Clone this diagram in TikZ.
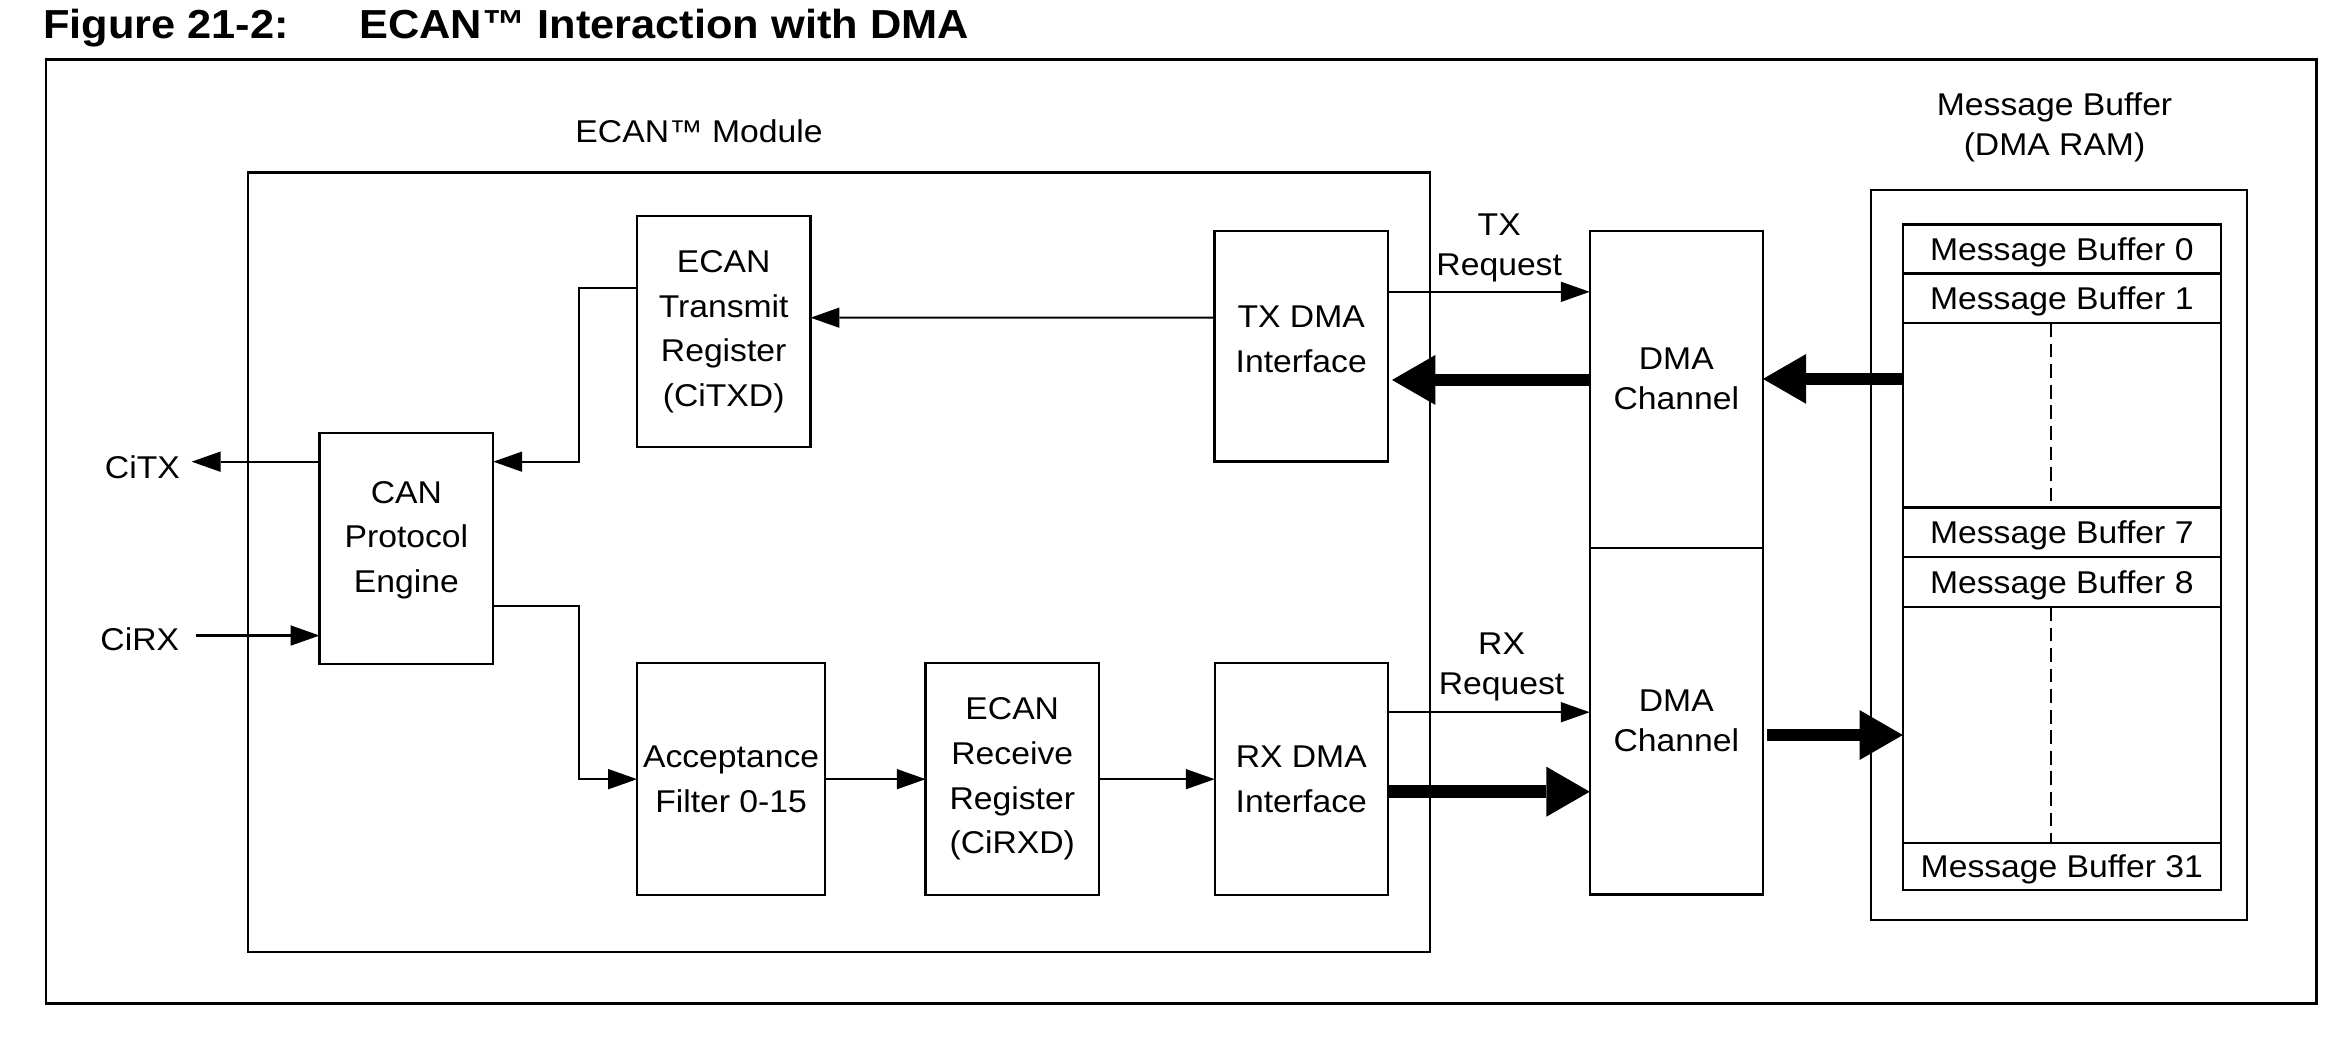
\documentclass[tikz,border=0pt]{standalone}
\usepackage{fontspec}
\setmainfont{Liberation Sans}[FakeStretch=1.07]
\usetikzlibrary{arrows.meta,positioning}
\newdimen\dpx \dpx=0.01486cm
\newcommand\boxfont{\fontsize{8.96pt}{12.7pt}\selectfont}
\newcommand\lblfont{\fontsize{8.96pt}{11.4pt}\selectfont}
\newcommand\ttlfont{\fontsize{11.53pt}{14pt}\selectfont\bfseries}
\tikzset{
blk/.style={draw,line width=0.65pt,inner sep=0pt,outer sep=0pt,align=center,font=\boxfont,anchor=north west},
row/.style={draw,line width=0.65pt,inner sep=0pt,outer sep=0pt,minimum width=214\dpx,font=\boxfont,text depth=0pt},
boxtxt/.style={align=center,font=\boxfont,inner sep=0pt},
arr/.style={line width=0.6pt,-{Triangle[length=8.2pt,width=5.8pt,line width=0pt]}},
bigarr/.style={line width=3.6pt,-{Triangle[length=12.3pt,width=14.2pt,line width=0pt]}}
}
\begin{document}
\begin{tikzpicture}[x=0.01486cm,y=-0.01486cm]
\useasboundingbox (0,0) rectangle (1568,707.96);

\node[anchor=base west,font=\ttlfont,inner sep=0pt] (fig) at (28.5,25.8) {Figure 21-2:};
\node[anchor=base west,font=\ttlfont,inner sep=0pt] (ttl) at (241.4,25.8) {ECAN™ Interaction with DMA};
\node[blk,line width=0.8pt,minimum width=1528\dpx,minimum height=635.5\dpx] (frame) at (31,40) {};

\node[anchor=base west,font=\boxfont,inner sep=0pt] (ecanlbl) at (386.8,95.8) {ECAN™ Module};
\node[blk,minimum width=795.5\dpx,minimum height=524.5\dpx] (ecan) at (167,116) {};
\node[blk,minimum width=117\dpx,minimum height=155.5\dpx] (txreg) at (428.5,145.5) {ECAN\\Transmit\\Register\\(CiTXD)};
\node[blk,minimum width=116.7\dpx,minimum height=155.2\dpx,
  label={[boxtxt,yshift=4.85\dpx]center:TX DMA\\Interface}] (txdma) at (817.3,155.4) {};
\node[blk,minimum width=117\dpx,minimum height=155.2\dpx,
  label={[boxtxt,yshift=5.75\dpx]center:CAN\\Protocol\\Engine}] (pe) at (215,291.6) {};
\node[blk,minimum width=126.6\dpx,minimum height=155.9\dpx] (filt) at (428.7,446.4) {Acceptance\\Filter 0-15};
\node[blk,minimum width=116.6\dpx,minimum height=155.9\dpx] (rxreg) at (622.9,446.4) {ECAN\\Receive\\Register\\(CiRXD)};
\node[blk,minimum width=116.6\dpx,minimum height=155.9\dpx] (rxdma) at (817.4,446.4) {RX DMA\\Interface};

\node[anchor=east,font=\boxfont,inner xsep=7.5\dpx,inner ysep=0pt] (citx) at (129,314.3) {CiTX};
\node[anchor=east,font=\boxfont,inner xsep=10.9\dpx,inner ysep=0pt] (cirx) at (131.9,430.3) {CiRX};

\node[blk,minimum width=116.6\dpx,minimum height=213.3\dpx,
  label={[boxtxt,font=\lblfont,yshift=7.15\dpx]center:DMA\\Channel}] (dmatx) at (1069.8,155.4) {};
\node[blk,font=\lblfont,minimum width=116.6\dpx,minimum height=233.3\dpx] (dmarx) at (1069.8,368.7) {DMA\\Channel};

\node[boxtxt,font=\lblfont] (mblbl) at (1382.6,85.5) {Message Buffer\\(DMA RAM)};
\node[blk,minimum width=253\dpx,minimum height=491.6\dpx] (mbox) at (1259,127.7) {};
\node[row,minimum height=33\dpx,anchor=north west] (mb0) at (1280.5,151) {Message Buffer 0};
\node[row,minimum height=33.5\dpx,below=0pt of mb0] (mb1) {Message Buffer 1};
\node[row,minimum height=124\dpx,below=0pt of mb1] (gap1) {};
\node[row,minimum height=33.5\dpx,below=0pt of gap1] (mb7) {Message Buffer 7};
\node[row,minimum height=33.5\dpx,below=0pt of mb7] (mb8) {Message Buffer 8};
\node[row,minimum height=159\dpx,below=0pt of mb8] (gap2) {};
\node[row,minimum height=31.2\dpx,below=0pt of gap2] (mb31) {Message Buffer 31};
\draw[line width=0.6pt,dash pattern=on 3.9pt off 1.95pt]
([xshift=-7\dpx]gap1.north) -- ([xshift=-7\dpx]gap1.south)
([xshift=-7\dpx]gap2.north) -- ([xshift=-7\dpx]gap2.south);

\coordinate (txlvl) at ([yshift=58.5\dpx]pe.west);
\coordinate (rxlvl) at ([yshift=-58.5\dpx]pe.west);
\draw[arr] ([yshift=19.2\dpx]txdma.west) -- ([yshift=9.45\dpx]txreg.east);
\draw[arr] ([yshift=29.25\dpx]txreg.west) -- ++(-38.9,0) |- ([yshift=58.5\dpx]pe.east);
\draw[arr] (txlvl) -- (txlvl -| citx.east);
\draw[arr] (rxlvl -| cirx.east) -- (rxlvl);
\draw[arr] ([yshift=-38.4\dpx]pe.east) -- ++(57.6,0) |- (filt.west);
\draw[arr] (filt) -- (rxreg);
\draw[arr] (rxreg) -- (rxdma);

\draw[arr] ([yshift=36.6\dpx]txdma.east) --
node[boxtxt,font=\lblfont,above,inner sep=2.6pt,xshift=7\dpx] (txreq) {TX\\Request}
([yshift=65.65\dpx]dmatx.west);
\draw[arr] ([yshift=45.05\dpx]rxdma.east) --
node[boxtxt,font=\lblfont,above,inner sep=3pt,xshift=8.6\dpx] (rxreq) {RX\\Request}
([yshift=6.05\dpx]dmarx.west);

\coordinate (mbtx) at ([yshift=24.5\dpx]gap1.west);
\coordinate (dmo) at ([xshift=3\dpx,yshift=-9.3\dpx]dmarx.east);
\draw[bigarr] ([yshift=6.35\dpx]dmatx.west) -- ([xshift=2.8\dpx,yshift=-22.7\dpx]txdma.east);
\draw[bigarr] ([yshift=-8.45\dpx]rxdma.east) -- ([yshift=-47.45\dpx]dmarx.west);
\draw[bigarr] (mbtx) -- (mbtx -| dmatx.east);
\draw[bigarr] (dmo) -- (dmo -| gap2.west);
\end{tikzpicture}
\end{document}
